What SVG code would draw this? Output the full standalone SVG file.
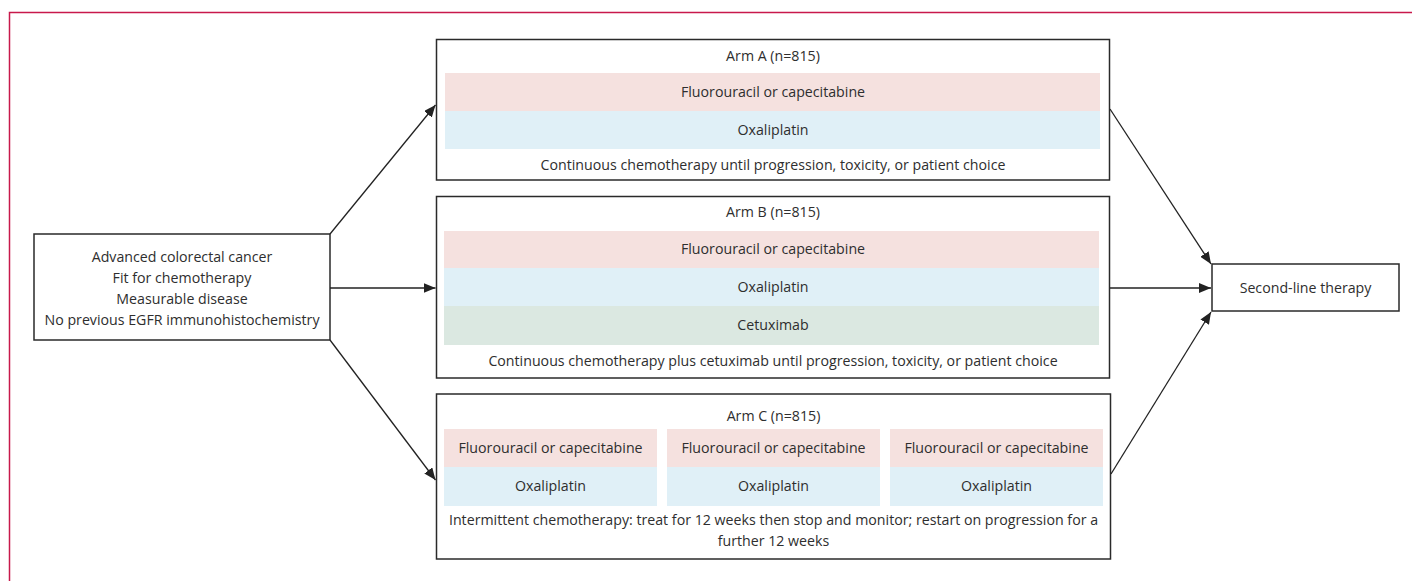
<svg xmlns="http://www.w3.org/2000/svg" width="1412" height="581" viewBox="0 0 1412 581">
<style>
.box{fill:#fff;stroke:#2a2a2a;stroke-width:1.5}
.pk{fill:#f5e1df}
.bl{fill:#e0f0f7}
.gr{fill:#dbe8e1}
text{font-family:"Open Sans","Liberation Sans",sans-serif;font-size:14.2px;fill:#2e2e2e;text-anchor:middle}
.ln{stroke:#222;stroke-width:1.3;fill:none;marker-end:url(#ah)}
</style>
<defs>
<marker id="ah" viewBox="0 0 12 10" refX="12" refY="5" markerWidth="12" markerHeight="10" markerUnits="userSpaceOnUse" orient="auto">
<path d="M0,0 L12,5 L0,10 Z" fill="#222"/>
</marker>
</defs>
<path d="M9.5,581 V12.5 H1412" fill="none" stroke="#c8194b" stroke-width="1.5"/>
<g id="start">
<rect class="box" x="34" y="234" width="296" height="106"/>
<text x="182" y="262">Advanced colorectal cancer</text>
<text x="182" y="283">Fit for chemotherapy</text>
<text x="182" y="304">Measurable disease</text>
<text x="182" y="325">No previous EGFR immunohistochemistry</text>
</g>
<g id="armA">
<rect class="box" x="436.5" y="39.5" width="673" height="140.5"/>
<text x="773" y="61">Arm A (n=815)</text>
<rect class="pk" x="445" y="73" width="655" height="38"/>
<text x="773" y="97">Fluorouracil or capecitabine</text>
<rect class="bl" x="445" y="111" width="655" height="38"/>
<text x="773" y="135">Oxaliplatin</text>
<text x="773" y="170">Continuous chemotherapy until progression, toxicity, or patient choice</text>
</g>
<g id="armB">
<rect class="box" x="436.5" y="196.5" width="673" height="181.5"/>
<text x="773" y="217">Arm B (n=815)</text>
<rect class="pk" x="444" y="231" width="655" height="37"/>
<text x="773" y="254">Fluorouracil or capecitabine</text>
<rect class="bl" x="444" y="268" width="655" height="38"/>
<text x="773" y="292">Oxaliplatin</text>
<rect class="gr" x="444" y="306" width="655" height="39"/>
<text x="773" y="330">Cetuximab</text>
<text x="773" y="366">Continuous chemotherapy plus cetuximab until progression, toxicity, or patient choice</text>
</g>
<g id="armC">
<rect class="box" x="436.5" y="394" width="674" height="165"/>
<text x="773.5" y="421">Arm C (n=815)</text>
<rect class="pk" x="444" y="429" width="213" height="38"/>
<rect class="bl" x="444" y="467" width="213" height="39"/>
<text x="550.5" y="453">Fluorouracil or capecitabine</text>
<text x="550.5" y="491">Oxaliplatin</text>
<rect class="pk" x="667" y="429" width="213" height="38"/>
<rect class="bl" x="667" y="467" width="213" height="39"/>
<text x="773.5" y="453">Fluorouracil or capecitabine</text>
<text x="773.5" y="491">Oxaliplatin</text>
<rect class="pk" x="890" y="429" width="213" height="38"/>
<rect class="bl" x="890" y="467" width="213" height="39"/>
<text x="996.5" y="453">Fluorouracil or capecitabine</text>
<text x="996.5" y="491">Oxaliplatin</text>
<text x="773.5" y="525">Intermittent chemotherapy: treat for 12 weeks then stop and monitor; restart on progression for a</text>
<text x="773.5" y="546">further 12 weeks</text>
</g>
<g id="second">
<rect class="box" x="1212" y="264" width="187" height="47"/>
<text x="1305.5" y="293">Second-line therapy</text>
</g>
<g id="connectors">
<line class="ln" x1="330" y1="234" x2="435.5" y2="105"/>
<line class="ln" x1="330" y1="288" x2="435.5" y2="288"/>
<line class="ln" x1="330" y1="340" x2="435.5" y2="480"/>
<line class="ln" x1="1110" y1="109" x2="1211" y2="264"/>
<line class="ln" x1="1110" y1="288" x2="1211" y2="288"/>
<line class="ln" x1="1111" y1="474" x2="1211" y2="312"/>
</g>
</svg>
